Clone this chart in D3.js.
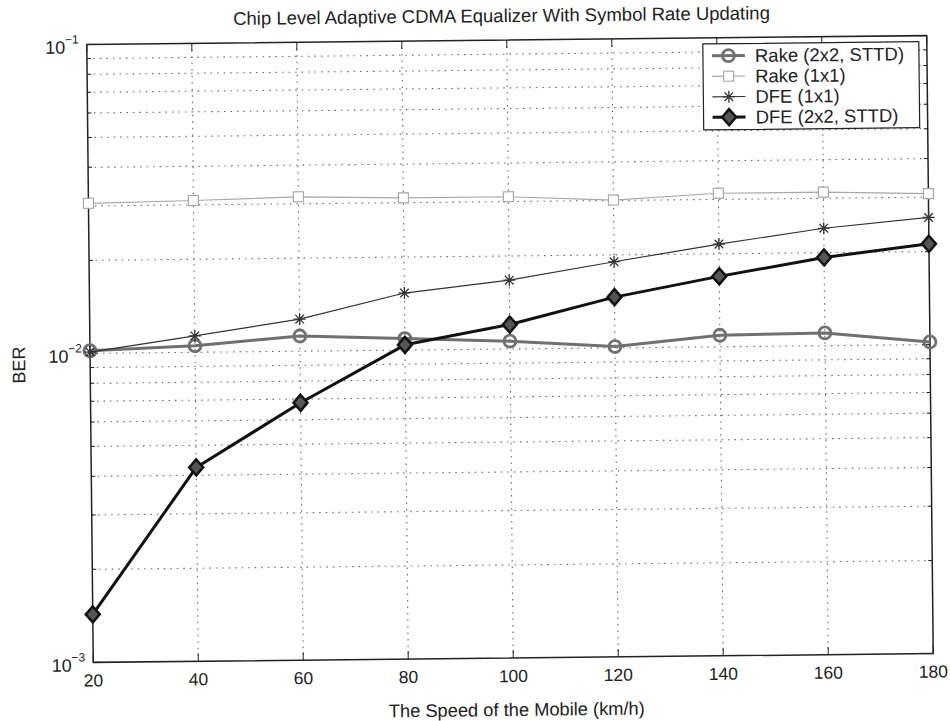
<!DOCTYPE html>
<html>
<head>
<meta charset="utf-8">
<script src="https://cdn.jsdelivr.net/npm/d3@7"></script>
<style>
  body { margin: 0; background: #fff; }
  svg { font-family: "Liberation Sans", Arial, sans-serif; }
</style>
</head>
<body>
<svg id="chart" width="950" height="721"></svg>
<script>
// speeds in km/h
const speeds = [20, 40, 60, 80, 100, 120, 140, 160, 180];

// BER
const rake2x2 = [0.0102, 0.0105, 0.0112, 0.0109, 0.0106, 0.0101, 0.0109, 0.0110, 0.0102];
const rake1x1 = [0.0306, 0.0310, 0.0316, 0.0311, 0.0311, 0.0301, 0.0314, 0.0314, 0.0308];
const dfe1x1  = [0.0101, 0.0113, 0.0127, 0.0153, 0.0167, 0.0190, 0.0215, 0.0240, 0.0258];
const dfe2x2  = [0.00143, 0.00424, 0.00681, 0.0104, 0.0120, 0.0146, 0.0169, 0.0193, 0.0212];

const xTicks = [20, 40, 60, 80, 100, 120, 140, 160, 180];
const yDecades = [-3, -2, -1];

const series = [
  { name: "Rake (2x2, STTD)", values: rake2x2, color: "#707070", width: 3, marker: "circle" },
  { name: "Rake (1x1)",       values: rake1x1, color: "#a8a8a8", width: 1.2, marker: "square" },
  { name: "DFE (1x1)",        values: dfe1x1,  color: "#333",    width: 1.2, marker: "star" },
  { name: "DFE (2x2, STTD)",  values: dfe2x2,  color: "#111",    width: 3, marker: "diamond" }
];

const pL = 90, pR = 930, pT = 40, pB = 658;

const svg = d3.select("#chart");
// the scan is slightly tilted
const g = svg.append("g").attr("transform", "rotate(-0.6,510,349)");

const x = d3.scaleLinear().domain([20, 180]).range([pL, pR]);
const y = d3.scaleLog().domain([1e-3, 1e-1]).range([pB, pT]);

// minor values for the log grid
const yMinor = [];
for (let e = -3; e < -1; e++) {
  for (let m = 1; m <= 9; m++) yMinor.push(m * Math.pow(10, e));
}
yMinor.push(1e-1);

// grid
const grid = g.append("g").attr("stroke", "#666").attr("stroke-width", 1.1)
  .attr("stroke-dasharray", "1.5,5");
grid.selectAll(".gy").data(yMinor.filter(v => v > 1e-3 && v < 1e-1)).enter().append("line")
  .attr("x1", pL).attr("x2", pR)
  .attr("y1", d => y(d)).attr("y2", d => y(d));
grid.selectAll(".gx").data(xTicks.slice(1, -1)).enter().append("line")
  .attr("y1", pT).attr("y2", pB)
  .attr("x1", d => x(d)).attr("x2", d => x(d));

// ticks (inward, all four sides)
const ticks = g.append("g").attr("stroke", "#222").attr("stroke-width", 1);
xTicks.forEach(t => {
  ticks.append("line").attr("x1", x(t)).attr("x2", x(t)).attr("y1", pB).attr("y2", pB - 8);
  ticks.append("line").attr("x1", x(t)).attr("x2", x(t)).attr("y1", pT).attr("y2", pT + 8);
});
yMinor.forEach(v => {
  const isMajor = Math.abs(Math.log10(v) - Math.round(Math.log10(v))) < 1e-9;
  const len = isMajor ? 8 : 4;
  ticks.append("line").attr("x1", pL).attr("x2", pL + len).attr("y1", y(v)).attr("y2", y(v));
  ticks.append("line").attr("x1", pR).attr("x2", pR - len).attr("y1", y(v)).attr("y2", y(v));
});

// box
g.append("rect").attr("x", pL).attr("y", pT)
  .attr("width", pR - pL).attr("height", pB - pT)
  .attr("fill", "none").attr("stroke", "#222").attr("stroke-width", 1.5);

// markers
function marker(sel, type, color) {
  if (type === "circle") {
    sel.append("circle").attr("r", 6).attr("fill", "none").attr("stroke", color).attr("stroke-width", 2.8);
  } else if (type === "square") {
    sel.append("rect").attr("x", -5).attr("y", -5).attr("width", 10).attr("height", 10)
      .attr("fill", "#fff").attr("stroke", color).attr("stroke-width", 1.2);
  } else if (type === "star") {
    sel.append("path").attr("d", "M-6,0H6M0,-6V6M-4.3,-4.3L4.3,4.3M-4.3,4.3L4.3,-4.3")
      .attr("stroke", color).attr("stroke-width", 1.3);
  } else if (type === "diamond") {
    sel.append("path").attr("d", "M0,-8L7,0L0,8L-7,0Z")
      .attr("fill", "#555").attr("stroke", color).attr("stroke-width", 2.5);
  }
}

const line = d3.line().x(d => x(d[0])).y(d => y(d[1]));

const plot = g.append("g");
series.forEach(s => {
  const pts = speeds.map((v, i) => [v, s.values[i]]);
  plot.append("path").datum(pts).attr("d", line)
    .attr("fill", "none").attr("stroke", s.color).attr("stroke-width", s.width)
    .attr("stroke-linejoin", "round");
  pts.forEach(p => {
    marker(plot.append("g").attr("transform", `translate(${x(p[0])},${y(p[1])})`), s.marker, s.color);
  });
});

// legend
const lg = g.append("g").attr("transform", "translate(706,46)");
lg.append("rect").attr("width", 216).attr("height", 86)
  .attr("fill", "#fff").attr("stroke", "#222").attr("stroke-width", 1.2);
series.forEach((s, i) => {
  const row = lg.append("g").attr("transform", `translate(0,${12 + i * 20.5})`);
  row.append("line").attr("x1", 9).attr("x2", 42).attr("stroke", s.color).attr("stroke-width", s.width);
  marker(row.append("g").attr("transform", "translate(25.5,0)"), s.marker, s.color);
  row.append("text").attr("x", 52).attr("y", 6.5).attr("font-size", 18.5).attr("fill", "#222").text(s.name);
});

// x tick labels
g.append("g").selectAll("text").data(xTicks).enter().append("text")
  .attr("x", d => x(d)).attr("y", pB + 24)
  .attr("text-anchor", "middle").attr("font-size", 17.5).attr("fill", "#222")
  .text(d => d);

// y tick labels 10^e
yDecades.forEach(e => {
  const t = g.append("text").attr("x", pL - 8).attr("y", y(Math.pow(10, e)) + 9)
    .attr("text-anchor", "end").attr("font-size", 18).attr("fill", "#222");
  t.append("tspan").text("10");
  t.append("tspan").attr("dy", -10).attr("font-size", 12).text("\u2212" + Math.abs(e));
});

// title and axis labels
g.append("text").attr("x", 505).attr("y", 22).attr("text-anchor", "middle")
  .attr("font-size", 18.5).attr("fill", "#222")
  .text("Chip Level Adaptive CDMA Equalizer With Symbol Rate Updating");
g.append("text").attr("x", 513).attr("y", 716).attr("text-anchor", "middle")
  .attr("font-size", 18.3).attr("fill", "#222")
  .text("The Speed of the Mobile (km/h)");
g.append("text").attr("transform", "translate(25,360) rotate(-90)").attr("text-anchor", "middle")
  .attr("font-size", 18).attr("fill", "#222").text("BER");
</script>
</body>
</html>
